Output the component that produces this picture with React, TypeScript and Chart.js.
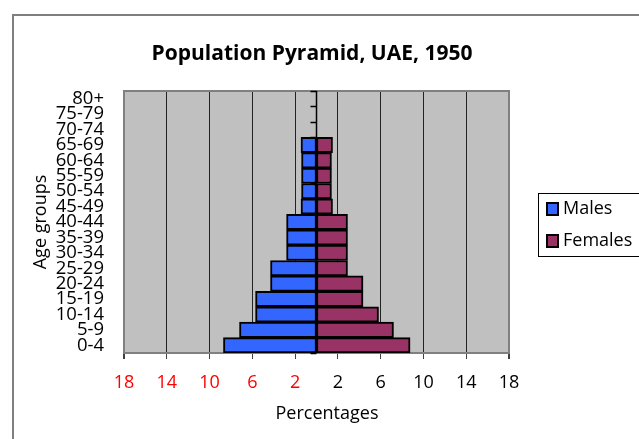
import React, { useEffect, useRef } from "react";
import { Chart, registerables } from "chart.js";

Chart.register(...registerables);

const AGE_GROUPS = ["0-4", "5-9", "10-14", "15-19", "20-24", "25-29", "30-34", "35-39", "40-44", "45-49", "50-54", "55-59", "60-64", "65-69", "70-74", "75-79", "80+"];
const MALES = [8.7, 7.2, 5.7, 5.7, 4.3, 4.3, 2.8, 2.8, 2.8, 1.45, 1.4, 1.4, 1.4, 1.45, 0, 0, 0];
const FEMALES = [8.75, 7.2, 5.8, 4.35, 4.35, 2.9, 2.9, 2.9, 2.9, 1.5, 1.4, 1.4, 1.4, 1.5, 0, 0, 0];
const X_TICKS = [-18, -14, -10, -6, -2, 2, 6, 10, 14, 18];
const SERIES_NAMES = ["Males", "Females"];
const SERIES_COLORS = ["#3366FF", "#993366"];
const TITLE = "Population Pyramid, UAE, 1950";
const X_TITLE = "Percentages";
const Y_TITLE = "Age groups";

const FONT = "'Open Sans', sans-serif";

const decor = {
  id: "decor",
  beforeDraw(chart: any) {
    const { ctx, chartArea } = chart;
    const { left, top, right, bottom } = chartArea;
    ctx.save();
    ctx.fillStyle = "#ffffff";
    ctx.fillRect(0, 0, chart.width, chart.height);
    ctx.strokeStyle = "#7f7f7f";
    ctx.lineWidth = 2;
    ctx.strokeRect(13, 15, 700, 500);
    ctx.fillStyle = "#C0C0C0";
    ctx.fillRect(left, top, right - left, bottom - top);
    ctx.restore();
  },
  beforeDatasetsDraw(chart: any) {
    const { ctx, chartArea, scales } = chart;
    const { left, top, right, bottom } = chartArea;
    ctx.save();
    ctx.strokeStyle = "#808080";
    ctx.lineWidth = 2;
    ctx.beginPath();
    ctx.moveTo(left - 1, top);
    ctx.lineTo(right + 1, top);
    ctx.stroke();
    const x0 = scales.x.getPixelForValue(0);
    ctx.strokeStyle = "#000";
    ctx.lineWidth = 1.5;
    ctx.beginPath();
    ctx.moveTo(x0, top);
    ctx.lineTo(x0, bottom);
    const n = AGE_GROUPS.length;
    const h = (bottom - top) / n;
    for (let i = 0; i <= n; i++) {
      const y = Math.round(top + i * h) + 0.5;
      ctx.moveTo(x0 - 6, y);
      ctx.lineTo(x0, y);
    }
    ctx.stroke();
    ctx.restore();
  },
  afterDraw(chart: any) {
    const { ctx } = chart;
    ctx.save();
    // title
    ctx.fillStyle = "#000";
    ctx.textAlign = "center";
    ctx.textBaseline = "middle";
    ctx.font = `bold 21px ${FONT}`;
    ctx.fillText(TITLE, 312, 54);
    // x axis title
    ctx.font = `18px ${FONT}`;
    ctx.fillText(X_TITLE, 327, 414);
    // legend
    ctx.strokeStyle = "#000";
    ctx.lineWidth = 1;
    ctx.strokeRect(538.5, 193.5, 120, 63);
    ctx.font = `18px ${FONT}`;
    ctx.textBaseline = "middle";
    ctx.textAlign = "left";
    const ys = [209, 241];
    SERIES_NAMES.forEach((name, i) => {
      ctx.fillStyle = SERIES_COLORS[i];
      ctx.fillRect(547, ys[i] - 6, 11, 12);
      ctx.strokeStyle = "#000";
      ctx.lineWidth = 2;
      ctx.strokeRect(547, ys[i] - 6, 11, 12);
      ctx.fillStyle = "#000";
      ctx.fillText(name, 563, ys[i]);
    });
    ctx.restore();
  },
};

export default function App() {
  const ref = useRef<HTMLCanvasElement>(null);
  useEffect(() => {
    if (!ref.current) return;
    const chart = new Chart(ref.current, {
      type: "bar",
      data: {
        labels: AGE_GROUPS,
        datasets: [
          {
            label: SERIES_NAMES[0],
            data: MALES.map((v) => -v),
            backgroundColor: SERIES_COLORS[0],
            borderColor: "#000",
            borderWidth: 2,
            borderSkipped: false,
            barPercentage: 1,
            categoryPercentage: 1,
          },
          {
            label: SERIES_NAMES[1],
            data: FEMALES,
            backgroundColor: SERIES_COLORS[1],
            borderColor: "#000",
            borderWidth: 2,
            borderSkipped: false,
            barPercentage: 1,
            categoryPercentage: 1,
          },
        ],
      },
      options: {
        indexAxis: "y",
        responsive: false,
        animation: false,
        layout: { padding: { left: 0, right: 130, top: 91, bottom: 0 } },
        plugins: {
          legend: { display: false },
          tooltip: { enabled: false },
          title: { display: false },
        },
        scales: {
          x: {
            type: "linear",
            stacked: true,
            min: -18,
            max: 18,
            afterBuildTicks: (scale: any) => {
              scale.ticks = X_TICKS.map((v) => ({ value: v }));
            },
            afterFit: (scale: any) => {
              scale.height = 86;
            },
            ticks: {
              autoSkip: false,
              maxRotation: 0,
              padding: 13,
              font: { family: FONT, size: 18 },
              color: (ctx: any) => (ctx.tick && ctx.tick.value < 0 ? "#FF0000" : "#000"),
              callback: (v: any) => String(Math.abs(Number(v))),
            },
            grid: {
              color: (ctx: any) => (ctx.tick && Math.abs(ctx.tick.value) === 18 ? "#808080" : "#222"),
              lineWidth: (ctx: any) => (ctx.tick && Math.abs(ctx.tick.value) === 18 ? 2 : 1),
              tickColor: "#404040",
              tickLength: 6,
            },
            border: { display: true, color: "#808080", width: 2 },
            title: { display: false },
          },
          y: {
            type: "category",
            stacked: true,
            reverse: true,
            afterFit: (scale: any) => {
              scale.width = 124;
            },
            ticks: {
              autoSkip: false,
              padding: 20,
              color: "#000",
              font: { family: FONT, size: 18.5, lineHeight: 1 },
            },
            grid: { display: false, drawTicks: false },
            border: { display: false },
            title: {
              display: true,
              text: Y_TITLE,
              color: "#000",
              font: { family: FONT, size: 18 },
              padding: { top: 30, bottom: 0 },
            },
          },
        },
      },
      plugins: [decor],
    });
    return () => chart.destroy();
  }, []);
  return (
    <div style={{ position: "fixed", left: 0, top: 0, width: 639, height: 439, background: "#fff" }}>
      <canvas ref={ref} width={639} height={439} style={{ display: "block" }} />
    </div>
  );
}
